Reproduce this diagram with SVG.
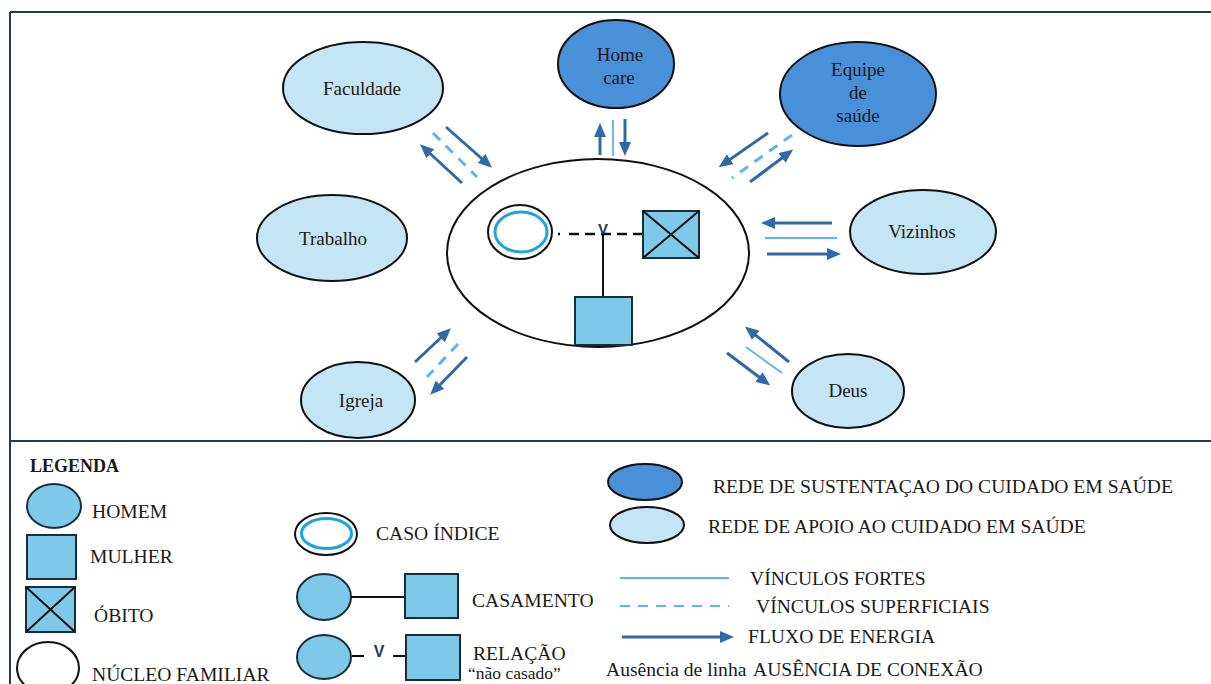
<svg xmlns="http://www.w3.org/2000/svg" width="1211" height="684" viewBox="0 0 1211 684" font-family="'Liberation Serif', 'Times New Roman', serif">
<style>
text{font-family:'Liberation Serif','Times New Roman',serif;fill:#1a1a1a;font-size:19px}
.lbl{text-anchor:middle}
.lg{font-size:19.6px}
.light{fill:#c5e4f4;stroke:#111;stroke-width:2}
.dark{fill:#4a90d9;stroke:#111;stroke-width:2}
.sym{fill:#7ec8ea;stroke:#1a2e3a;stroke-width:2}
.fam{fill:#fff;stroke:#111;stroke-width:2}
.idx{fill:none;stroke:#1aa3e6;stroke-width:3}
.arr{stroke:#2e6aa8;stroke-width:3;fill:none;marker-end:url(#ah)}
.strong{stroke:#5ab4e6;stroke-width:1.8;fill:none}
.weak{stroke:#5ab8e8;stroke-width:3;fill:none;stroke-dasharray:10 8}
.frame{stroke:#1f3b4d;stroke-width:2;fill:none}
.blk{stroke:#111;stroke-width:2;fill:none}
.v{font-family:'Liberation Sans',Arial,sans-serif;font-weight:bold;fill:#1f3b4d;text-anchor:middle}
</style>
<defs>
<marker id="ah" markerUnits="userSpaceOnUse" markerWidth="14" markerHeight="12" refX="10" refY="6" orient="auto">
<path d="M0,0 L14,6 L0,12 z" fill="#2e6aa8"/>
</marker>
</defs>
<rect width="1211" height="684" fill="#fff"/>
<g id="frame">
<path class="frame" d="M10,12 H1211 M10,12 V684 M10,441 H1211"/>
</g>
<g id="connectors">
<line class="arr" x1="446" y1="127" x2="489" y2="165"/>
<line class="weak" x1="433" y1="133" x2="477" y2="177"/>
<line class="arr" x1="462" y1="183" x2="423" y2="147"/>
<line class="arr" x1="600" y1="155" x2="600" y2="127"/>
<line class="strong" x1="613" y1="120" x2="613" y2="156"/>
<line class="arr" x1="625" y1="119" x2="625" y2="152"/>
<line class="arr" x1="768" y1="133" x2="722" y2="165"/>
<line class="weak" x1="792" y1="135" x2="732" y2="178"/>
<line class="arr" x1="750" y1="182" x2="790" y2="152"/>
<line class="arr" x1="832" y1="223" x2="765" y2="223"/>
<line class="strong" x1="765" y1="238" x2="837" y2="238"/>
<line class="arr" x1="767" y1="254" x2="837" y2="254"/>
<line class="arr" x1="789" y1="362" x2="748" y2="329"/>
<line class="strong" x1="746" y1="347" x2="782" y2="373"/>
<line class="arr" x1="727" y1="353" x2="767" y2="383"/>
<line class="arr" x1="415" y1="362" x2="448" y2="331"/>
<line class="weak" x1="458" y1="344" x2="427" y2="377"/>
<line class="arr" x1="467" y1="357" x2="433" y2="392"/>
</g>
<g id="node-faculdade">
<ellipse class="light" cx="363" cy="88" rx="80" ry="46"/>
<text class="lbl" x="362" y="95">Faculdade</text>
</g>
<g id="node-homecare">
<ellipse class="dark" cx="616" cy="64" rx="58" ry="44"/>
<text class="lbl" x="620" y="61">Home</text>
<text class="lbl" x="619" y="84">care</text>
</g>
<g id="node-equipe">
<ellipse class="dark" cx="858" cy="94" rx="78" ry="52"/>
<text class="lbl" x="858" y="76">Equipe</text>
<text class="lbl" x="858" y="99">de</text>
<text class="lbl" x="858" y="122">saúde</text>
</g>
<g id="node-trabalho">
<ellipse class="light" cx="332" cy="238" rx="75" ry="43"/>
<text class="lbl" x="333" y="245">Trabalho</text>
</g>
<g id="node-vizinhos">
<ellipse class="light" cx="923" cy="232" rx="73" ry="42"/>
<text class="lbl" x="922" y="238">Vizinhos</text>
</g>
<g id="node-deus">
<ellipse class="light" cx="848" cy="391" rx="56" ry="37"/>
<text class="lbl" x="848" y="397">Deus</text>
</g>
<g id="node-igreja">
<ellipse class="light" cx="358" cy="400" rx="57" ry="38"/>
<text class="lbl" x="361" y="407">Igreja</text>
</g>
<g id="node-familia">
<ellipse class="fam" cx="598" cy="253" rx="151" ry="94"/>
<ellipse class="fam" cx="520" cy="232" rx="32" ry="27"/>
<ellipse class="idx" cx="521" cy="232" rx="26" ry="20"/>
<line x1="558" y1="234" x2="642" y2="234" stroke="#111" stroke-width="2.5" stroke-dasharray="2 9 10 6 10 6 10 6 10 6 10 6"/>
<text class="v" x="603" y="234" style="font-size:15px">V</text>
<line class="blk" x1="603" y1="234" x2="603" y2="297"/>
<rect class="sym" x="575" y="297" width="57" height="48"/>
<rect class="sym" x="643" y="211" width="56" height="47"/>
<path class="blk" d="M643,211 L699,258 M699,211 L643,258"/>
</g>
<g id="legend">
<text x="30" y="472" style="font-weight:bold;font-size:18px">LEGENDA</text>
<ellipse class="sym" cx="54" cy="506" rx="27" ry="22"/>
<text class="lg" x="92" y="518">HOMEM</text>
<rect class="sym" x="27" y="535" width="49" height="44"/>
<text class="lg" x="90" y="563">MULHER</text>
<rect class="sym" x="26" y="587" width="49" height="45"/>
<path class="blk" d="M26,587 L75,632 M75,587 L26,632"/>
<text class="lg" x="94" y="622">ÓBITO</text>
<ellipse class="fam" cx="48" cy="668" rx="31" ry="26"/>
<text class="lg" x="92" y="681">NÚCLEO FAMILIAR</text>
<ellipse class="fam" cx="326" cy="534" rx="31" ry="21"/>
<ellipse class="idx" cx="326.5" cy="533.5" rx="25" ry="15"/>
<text class="lg" x="376" y="540">CASO ÍNDICE</text>
<ellipse class="sym" cx="324" cy="597" rx="27" ry="23"/>
<line class="blk" x1="351" y1="597" x2="405" y2="597"/>
<rect class="sym" x="405" y="574" width="53" height="44"/>
<text class="lg" x="472" y="607">CASAMENTO</text>
<ellipse class="sym" cx="324" cy="657" rx="27" ry="22"/>
<line class="blk" x1="352" y1="656" x2="364" y2="656"/>
<text class="v" x="379" y="657" style="font-size:16px">V</text>
<line class="blk" x1="393" y1="656" x2="406" y2="656"/>
<rect class="sym" x="406" y="635" width="54" height="45"/>
<text class="lg" x="473" y="660">RELAÇÃO</text>
<text x="468" y="679" style="font-size:17.5px">“não casado”</text>
<ellipse class="dark" cx="645" cy="482" rx="37" ry="18"/>
<text class="lg" x="713" y="493">REDE DE SUSTENTAÇAO DO CUIDADO EM SAÚDE</text>
<ellipse class="light" cx="647" cy="525" rx="37" ry="18"/>
<text class="lg" x="708" y="533">REDE DE APOIO AO CUIDADO EM SAÚDE</text>
<line class="strong" x1="620" y1="578" x2="729" y2="578"/>
<text class="lg" x="750" y="585">VÍNCULOS FORTES</text>
<line class="weak" x1="620" y1="606" x2="729" y2="606" style="stroke-width:2"/>
<text class="lg" x="756" y="613">VÍNCULOS SUPERFICIAIS</text>
<line class="arr" x1="622" y1="637" x2="730" y2="637"/>
<text class="lg" x="748" y="643">FLUXO DE ENERGIA</text>
<text class="lg" x="606" y="676">Ausência de linha</text>
<text class="lg" x="753" y="676">AUSÊNCIA DE CONEXÃO</text>
</g>
</svg>
